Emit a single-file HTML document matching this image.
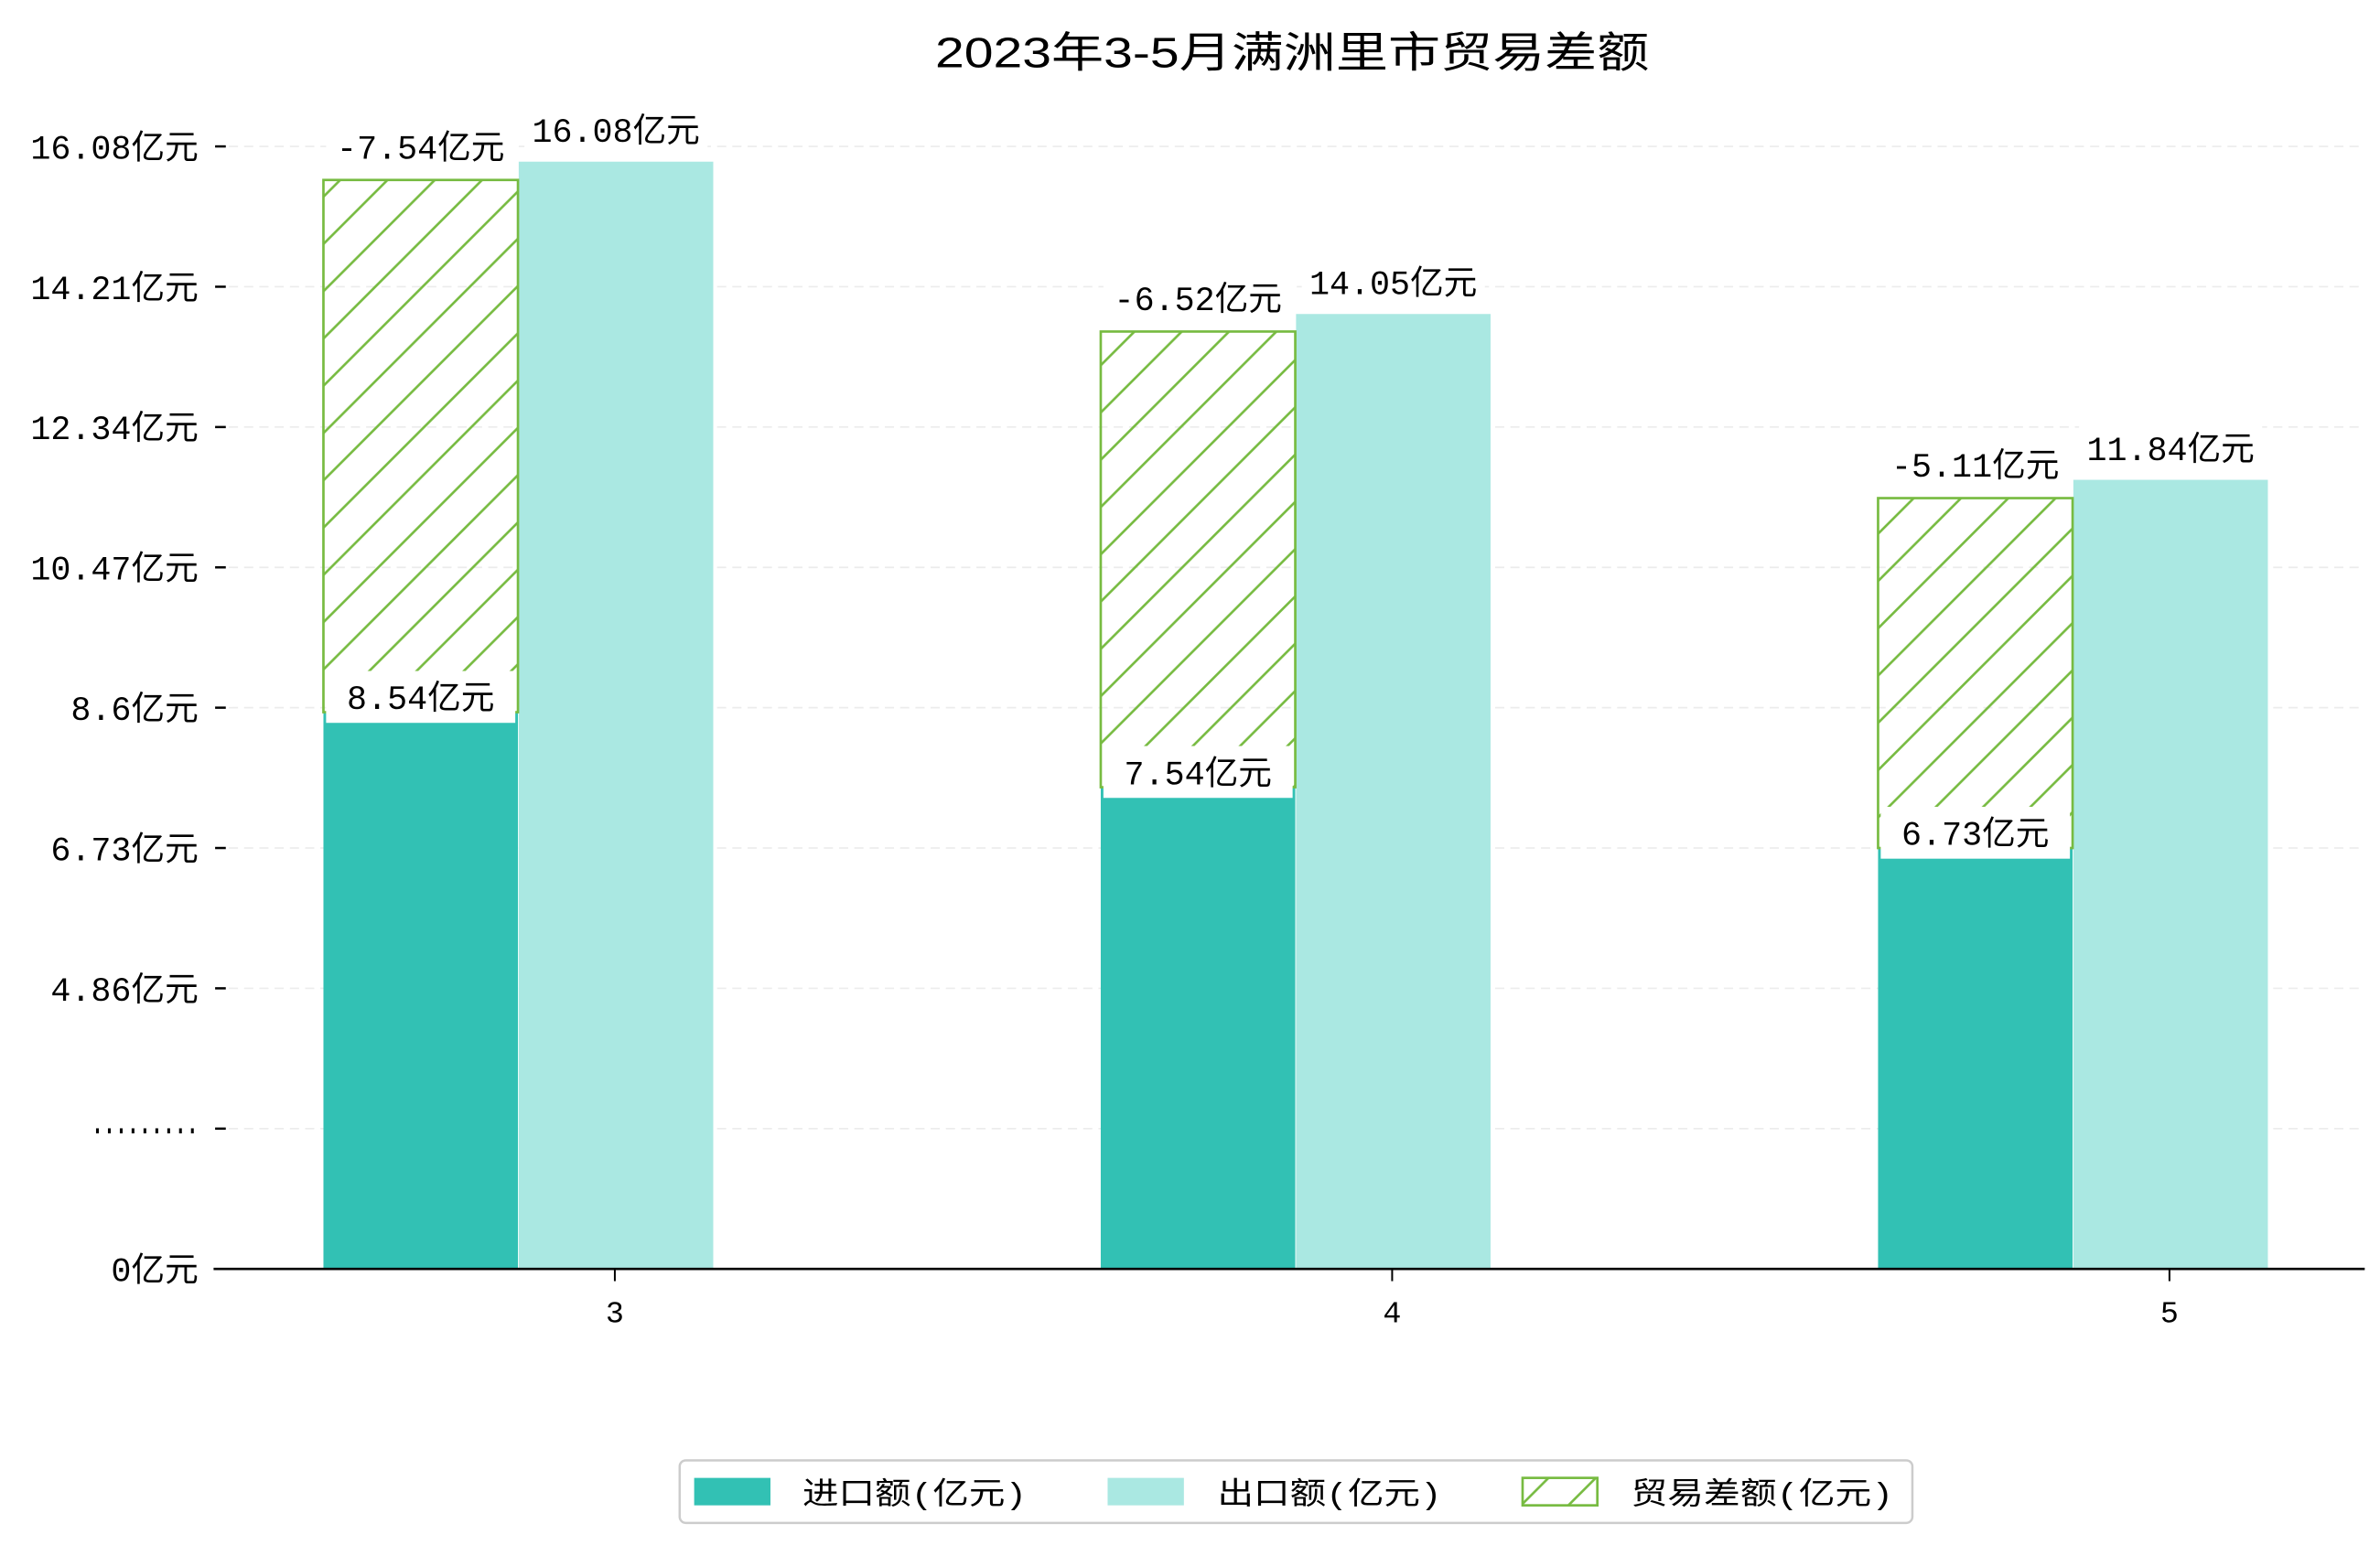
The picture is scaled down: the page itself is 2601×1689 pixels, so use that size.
<!DOCTYPE html>
<html><head><meta charset="utf-8"><style>
html,body{margin:0;padding:0;background:#fff}
svg{display:block}
text{font-family:"Liberation Mono","Noto Sans CJK SC",monospace;fill:#000}
.t{font-family:"Liberation Sans","Noto Sans CJK SC",sans-serif}
</style></head><body>
<svg id="chart" width="2601" height="1689" viewBox="0 0 1560 1013" preserveAspectRatio="none" xmlns="http://www.w3.org/2000/svg">
<defs>
<pattern id="hatch" patternUnits="userSpaceOnUse" width="31" height="31">
<path d="M-4,35 L35,-4 M-4,4 L4,-4 M27,35 L35,27" stroke="#77bb41" stroke-width="1.6"/>
</pattern>
</defs>
<text class="t" x="847" y="44" text-anchor="middle" font-size="28" textLength="468" lengthAdjust="spacingAndGlyphs">2023年3-5月满洲里市贸易差额</text>
<g id="grid"></g>
<g id="bars"></g>
<g id="labels"></g>
<line x1="140" y1="832" x2="1550" y2="832" stroke="#000" stroke-width="1.6"/>
<g id="xticks"></g>
<g>
<rect x="445.5" y="957.5" width="808" height="41" rx="4" fill="#fff" stroke="#cccccc" stroke-width="1.5"/>
<rect x="455" y="969" width="50" height="18" fill="#32c1b4"/>
<text x="526" y="986" font-size="20" textLength="147" lengthAdjust="spacingAndGlyphs">进口额(亿元)</text>
<rect x="726" y="969" width="50" height="18" fill="#aae8e2"/>
<text x="798" y="986" font-size="20" textLength="147" lengthAdjust="spacingAndGlyphs">出口额(亿元)</text>
<rect x="998" y="969" width="49" height="18" fill="url(#hatch)" stroke="#77bb41" stroke-width="1.6"/>
<text x="1069" y="986" font-size="20" textLength="172" lengthAdjust="spacingAndGlyphs">贸易差额(亿元)</text>
</g>
</svg>
<script>
const months = ['3', '4', '5'];
const importVals = [8.54, 7.54, 6.73];
const exportVals = [16.08, 14.05, 11.84];
const balanceVals = [-7.54, -6.52, -5.11];
const tickVals = [0, 2.99, 4.86, 6.73, 8.6, 10.47, 12.34, 14.21, 16.08];
const tickLabels = ['0亿元', '.........', '4.86亿元', '6.73亿元', '8.6亿元', '10.47亿元', '12.34亿元', '14.21亿元', '16.08亿元'];

const NS = 'http://www.w3.org/2000/svg';
const BASE = 832, BREAK_Y = 740, STEP = 92, UNIT = 1.87, BREAKV = 2.99;
function yScale(v) {
  if (v <= BREAKV) return BASE - (v / BREAKV) * (BASE - BREAK_Y);
  return BREAK_Y - (v - BREAKV) / UNIT * STEP;
}
function xCenter(i) { return 403 + i * 509.5; }
const BW = 127.5;
function mk(tag, attrs, parent) {
  const e = document.createElementNS(NS, tag);
  for (const k in attrs) e.setAttribute(k, attrs[k]);
  parent.appendChild(e);
  return e;
}
const grid = document.getElementById('grid');
const bars = document.getElementById('bars');
const labels = document.getElementById('labels');
const xt = document.getElementById('xticks');

tickVals.forEach((v, i) => {
  const y = BASE - i * STEP;
  if (i > 0) {
    const g = mk('line', {x1: 150, x2: 1550, y1: y, y2: y, stroke: '#ececec', 'stroke-width': 1, 'stroke-dasharray': '6,4'}, grid);
    
    
    const t = mk('line', {x1: 141, x2: 148, y1: y, y2: y, stroke: '#000', 'stroke-width': 1.5}, grid);
    
    
  }
  const attrs = {x: 130, y: y + 8, 'text-anchor': 'end', 'font-size': 22};
  if (i === 1) { attrs.textLength = 70; attrs.lengthAdjust = 'spacingAndGlyphs'; attrs['font-weight'] = 'bold'; attrs.y = y + 3; }
  const tx = mk('text', attrs, grid);
  
  
  tx.textContent = tickLabels[i];
});

function label(cx, cy, txt, w, name) {
  const r = mk('rect', {x: cx - w / 2, y: cy - 17, width: w, height: 34, fill: '#fff'}, labels);
  
  
  const t = mk('text', {x: cx, y: cy + 8, 'text-anchor': 'middle', 'font-size': 22}, labels);
  
  
  t.textContent = txt;
}

months.forEach((m, i) => {
  const c = xCenter(i);
  const impX = c - 191, expX = c - 63;
  const yi = yScale(importVals[i]);
  const b1 = mk('rect', {x: impX, y: yi, width: BW, height: BASE - yi, fill: '#32c1b4'}, bars);
  
  
  const ye = yScale(exportVals[i]) + 10;
  const b2 = mk('rect', {x: expX, y: ye, width: BW, height: BASE - ye, fill: '#aae8e2'}, bars);
  
  
  const yh = yScale(importVals[i] + Math.abs(balanceVals[i])) + 22;
  const b3 = mk('rect', {x: impX, y: yh, width: BW, height: yi - yh, fill: 'url(#hatch)', stroke: '#77bb41', 'stroke-width': 1.6}, bars);
  
  
  label(impX + BW / 2, yi - 10, importVals[i].toFixed(2) + '亿元', 124, 'import-value-label');
  label(impX + BW / 2, yh - 22, balanceVals[i].toFixed(2) + '亿元', 124, 'balance-value-label');
  label(expX + BW / 2, ye - 21, exportVals[i].toFixed(2) + '亿元', 120, 'export-value-label');
  const tk = mk('line', {x1: c, x2: c, y1: 832, y2: 840, stroke: '#000', 'stroke-width': 1.2}, xt);
  
  
  const tl = mk('text', {x: c, y: 867, 'text-anchor': 'middle', 'font-size': 20}, xt);
  
  
  tl.textContent = m;
});
</script>
</body></html>
